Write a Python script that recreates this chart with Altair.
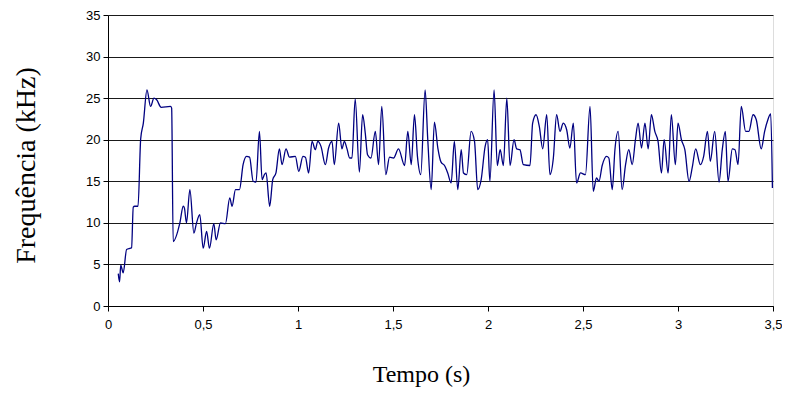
import altair as alt
import pandas as pd

# Time (s)
tempo = [0.054, 0.061, 0.067, 0.080, 0.098, 0.119, 0.124, 0.133, 0.140, 0.158, 0.172, 0.186, 0.205,
         0.224, 0.242, 0.256, 0.280, 0.329, 0.335, 0.343, 0.378, 0.396, 0.402, 0.413, 0.431,
         0.452, 0.466, 0.483, 0.501, 0.519, 0.534, 0.557, 0.569, 0.592, 0.618, 0.641, 0.653,
         0.671, 0.692, 0.711, 0.729, 0.745, 0.764, 0.779, 0.797, 0.811, 0.823, 0.832, 0.851,
         0.867, 0.884, 0.902, 0.916, 0.937, 0.955, 0.986, 1.004, 1.026, 1.039, 1.056, 1.074,
         1.091, 1.104, 1.121, 1.144, 1.161, 1.179, 1.191, 1.214, 1.231, 1.244, 1.258, 1.272,
         1.284, 1.301, 1.323, 1.340, 1.354, 1.366, 1.384, 1.407, 1.424, 1.441, 1.462, 1.482,
         1.503, 1.529, 1.561, 1.578, 1.596, 1.613, 1.629, 1.646, 1.669, 1.683, 1.701, 1.718,
         1.736, 1.753, 1.771, 1.788, 1.806, 1.823, 1.841, 1.859, 1.871, 1.888, 1.911, 1.929,
         1.946, 1.964, 1.985, 1.998, 2.010, 2.032, 2.049, 2.064, 2.081, 2.099, 2.116, 2.137,
         2.151, 2.168, 2.186, 2.221, 2.235, 2.253, 2.270, 2.288, 2.309, 2.326, 2.344, 2.361,
         2.379, 2.396, 2.414, 2.431, 2.449, 2.466, 2.487, 2.513, 2.537, 2.554, 2.571, 2.584,
         2.601, 2.624, 2.636, 2.654, 2.668, 2.685, 2.706, 2.724, 2.741, 2.759, 2.776, 2.790,
         2.808, 2.826, 2.843, 2.860, 2.878, 2.895, 2.913, 2.927, 2.948, 2.965, 2.986, 3.000,
         3.018, 3.036, 3.058, 3.076, 3.093, 3.118, 3.135, 3.155, 3.170, 3.193, 3.216, 3.233,
         3.249, 3.263, 3.286, 3.300, 3.316, 3.333, 3.356, 3.373, 3.395, 3.412, 3.438, 3.456,
         3.473, 3.488, 3.497]

# Frequency (kHz)
freq = [3.9, 2.9, 4.9, 4.0, 6.8, 6.95, 7.0, 11.9, 12.0, 12.0, 20.1, 22.0, 26.0,
        24.0, 25.0, 24.8, 23.9, 24.0, 23.8, 7.75, 9.96, 12.0, 11.8, 10.0, 14.0,
        8.76, 10.0, 11.0, 6.95, 8.96, 6.95, 9.9, 7.95, 10.0, 9.9, 13.0, 12.0,
        14.0, 14.0, 17.0, 18.0, 17.9, 15.0, 14.9, 21.0, 15.2, 15.8, 16.0, 12.0,
        15.2, 16.0, 18.9, 17.0, 18.9, 17.9, 18.0, 16.2, 18.0, 17.9, 16.0, 19.8,
        18.8, 19.8, 19.2, 17.0, 19.0, 19.8, 17.0, 22.0, 18.9, 19.8, 18.9, 17.8,
        17.8, 24.9, 16.1, 23.0, 20.8, 18.2, 17.8, 21.0, 17.0, 24.0, 15.8, 17.9,
        17.8, 18.9, 16.9, 21.0, 17.0, 23.0, 17.9, 15.8, 26.0, 20.0, 14.0, 22.1,
        19.0, 17.3, 16.9, 16.0, 14.8, 19.8, 14.0, 18.8, 16.0, 15.8, 21.0, 19.8,
        14.0, 15.2, 19.2, 20.0, 15.0, 26.0, 16.9, 18.8, 16.9, 25.0, 16.9, 20.0,
        18.9, 18.8, 17.0, 16.9, 22.0, 23.0, 21.6, 18.9, 23.0, 15.8, 17.8, 23.0,
        21.0, 22.0, 21.2, 19.0, 22.0, 14.8, 16.0, 15.8, 24.0, 13.8, 15.4, 15.0,
        16.9, 18.0, 17.8, 14.0, 18.8, 21.0, 14.0, 17.0, 18.8, 17.0, 20.0, 22.0,
        19.0, 22.0, 18.9, 23.0, 21.0, 19.8, 16.0, 20.0, 16.0, 23.0, 17.0, 22.0,
        20.0, 18.8, 15.0, 16.8, 18.9, 17.0, 18.0, 21.0, 17.4, 21.0, 14.9, 18.8,
        21.0, 15.0, 18.9, 18.8, 17.0, 24.0, 21.0, 21.0, 23.0, 22.4, 18.9, 21.0,
        22.4, 23.1, 14.2]

x_ticks = [0, 0.5, 1, 1.5, 2, 2.5, 3, 3.5]
y_ticks = [0, 5, 10, 15, 20, 25, 30, 35]

df = pd.DataFrame({"t": tempo, "f": freq})

chart = alt.Chart(df).mark_line(
    color="#000080", strokeWidth=1.3, interpolate="monotone"
).encode(
    x=alt.X("t:Q", scale=alt.Scale(domain=[0, 3.5], nice=False, zero=False),
            axis=alt.Axis(values=x_ticks, grid=False, title="Tempo (s)",
                          labelExpr="replace(toString(datum.value), '.', ',')",
                          labelFont="Liberation Sans", labelFontSize=13, labelColor="#000",
                          labelPadding=7, tickSize=5, tickColor="#000",
                          domainColor="#000", labelFlush=False,
                          titleFont="Liberation Serif", titleFontSize=24,
                          titleFontWeight="normal", titleColor="#000",
                          titleX=313, titleY=75, titleBaseline="alphabetic",
                          titleAlign="center")),
    y=alt.Y("f:Q", scale=alt.Scale(domain=[0, 35], nice=False),
            axis=alt.Axis(values=y_ticks, grid=True, gridColor="#1a1a1a", gridWidth=1,
                          title="Frequência (kHz)",
                          labelFont="Liberation Sans", labelFontSize=13, labelColor="#000",
                          labelPadding=3, tickSize=5, tickColor="#000",
                          domainColor="#000",
                          titleFont="Liberation Serif", titleFontSize=28,
                          titleFontWeight="normal", titleColor="#000",
                          titleAngle=270, titleX=-74, titleY=150,
                          titleBaseline="alphabetic", titleAlign="center")),
).properties(
    width=665, height=291,
    autosize=alt.AutoSizeParams(type="none"),
    padding={"left": 100, "top": 7, "right": 9, "bottom": 83},
).configure_view(
    stroke="#000", strokeWidth=1
).configure(background="white")

chart.save("out.html", embed_options={"renderer": "svg", "actions": False})
